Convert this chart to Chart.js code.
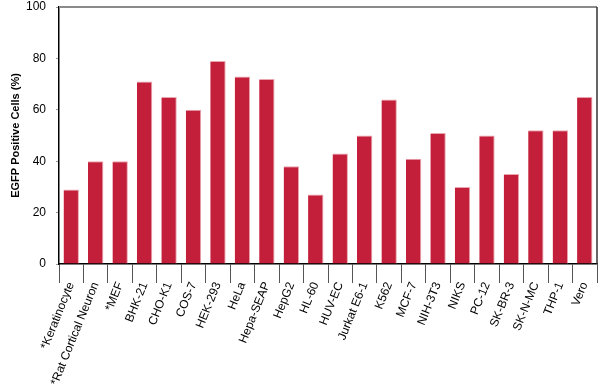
<!DOCTYPE html>
<html>
<head>
<meta charset="utf-8">
<script src="https://cdn.jsdelivr.net/npm/chart.js@4/dist/chart.umd.min.js"></script>
<style>
  body { margin: 0; background: #fff; }
  #wrap { width: 600px; height: 386px; position: relative; }
</style>
</head>
<body>
<div id="wrap"><canvas id="egfpChart"></canvas></div>
<script>
// ---------- DATA ----------
const cellLines = ['*Keratinocyte', '*Rat Cortical Neuron', '*MEF', 'BHK-21', 'CHO-K1', 'COS-7',
  'HEK-293', 'HeLa', 'Hepa-SEAP', 'HepG2', 'HL-60', 'HUV-EC', 'Jurkat E6-1', 'K562', 'MCF-7',
  'NIH-3T3', 'NIKS', 'PC-12', 'SK-BR-3', 'SK-N-MC', 'THP-1', 'Vero'];
const egfpPositive = [29, 40, 40, 71, 65, 60, 79, 73, 72, 38, 27, 43, 50, 64, 41, 51, 30, 50, 35, 52, 52, 65];
const yTicks = [0, 20, 40, 60, 80, 100];

const font = 'Liberation Sans, Arial, sans-serif';

// top and right frame lines
const framePlugin = {
    id: 'frame',
    afterDraw(chart) {
        const { ctx, chartArea: a } = chart;
        ctx.save();
        ctx.strokeStyle = '#8a8a8a';
        ctx.lineWidth = 2;
        ctx.beginPath();
        ctx.moveTo(a.left, a.top);
        ctx.lineTo(a.right, a.top);
        ctx.stroke();
        ctx.strokeStyle = '#333';
        ctx.lineWidth = 1.5;
        ctx.beginPath();
        ctx.moveTo(a.right, a.top);
        ctx.lineTo(a.right, a.bottom);
        ctx.stroke();
        ctx.restore();
    }
};

new Chart(document.getElementById('egfpChart'), {
    type: 'bar',
    data: {
        labels: cellLines,
        datasets: [{
            data: egfpPositive,
            backgroundColor: '#c41f3a',
            borderColor: '#eaa4ae',
            borderWidth: { top: 1, right: 1, left: 0, bottom: 0 },
            borderSkipped: false,
            barPercentage: 0.63,
            categoryPercentage: 1
        }]
    },
    options: {
        responsive: true,
        maintainAspectRatio: false,
        animation: false,
        layout: { padding: { top: 7, right: 3, left: 0, bottom: 0 } },
        plugins: { legend: { display: false }, tooltip: { enabled: false } },
        scales: {
            x: {
                afterFit: s => { s.height = 122; },
                grid: { drawOnChartArea: false, tickLength: 19, color: '#555', offset: true },
                border: { color: '#000', width: 1.5 },
                ticks: {
                    color: '#000',
                    font: { family: font, size: 12 },
                    minRotation: 68, maxRotation: 68,
                    autoSkip: false,
                    padding: -3
                }
            },
            y: {
                min: 0, max: 100,
                afterFit: s => { s.width = 59; s.paddingTop = 0; s.paddingBottom = 0; },
                afterBuildTicks: s => { s.ticks = yTicks.map(v => ({ value: v })); },
                grid: { drawOnChartArea: false, tickLength: 3, color: '#999' },
                border: { color: '#000', width: 1.5 },
                ticks: {
                    color: '#000',
                    font: { family: font, size: 12 },
                    padding: 10
                },
                title: {
                    display: true,
                    text: 'EGFP Positive Cells (%)',
                    color: '#000',
                    font: { family: font, size: 11, weight: 'bold' },
                    padding: { top: 9, bottom: 0 }
                }
            }
        }
    },
    plugins: [framePlugin]
});
</script>
</body>
</html>
